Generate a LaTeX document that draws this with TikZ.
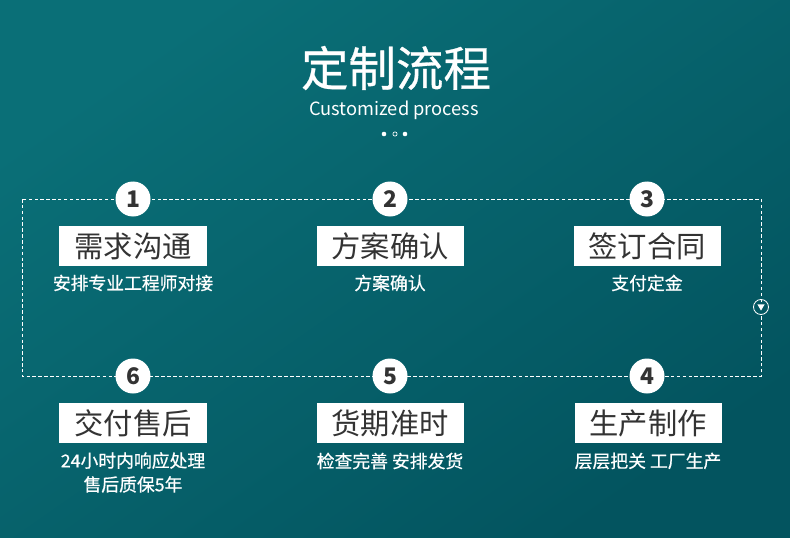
\documentclass[tikz,border=0pt]{standalone}
\usepackage{fontspec}
\setmainfont{Noto Sans CJK SC}
\newfontfamily\medfont[FakeBold=0.6]{Noto Sans CJK SC}
\usepackage{tikz}
\usetikzlibrary{calc}
\usepackage{xcolor}
\definecolor{bgtop}{HTML}{0A6F77}
\definecolor{bgbot}{HTML}{03545F}
\definecolor{ink}{HTML}{333333}
\tikzset{
  stepnum/.style={circle,fill=white,text=ink,minimum size=1.05cm,inner sep=0pt,
    font=\fontsize{19.5}{19.5}\selectfont\bfseries},
  titlebox/.style={rectangle,fill=white,text=ink,minimum width=4.41cm,
    minimum height=1.2cm,inner sep=0pt,font=\fontsize{25}{25}\selectfont},
  subtext/.style={text=white,inner sep=0pt,align=center,
    font=\fontsize{15.2}{20.4}\selectfont\medfont},
  flowline/.style={white,line width=0.7pt,dash pattern=on 3pt off 2pt},
}

\begin{document}
\begin{tikzpicture}[x=0.03cm,y=-0.03cm]
  \shade[shading=axis,top color=bgtop,bottom color=bgbot,shading angle=35]
    (0,0) rectangle (790,538);
  \useasboundingbox (0,0) rectangle (790,538);

  % heading
  \node[text=white,font=\fontsize{40.5}{40.5}\selectfont\medfont] (head) at (396,68) {定制流程};
  \node[text=white,font=\fontsize{15.6}{15.6}\selectfont] (headen) at (394,110) {Customized process};
  \fill[white] (384,134) circle (2.3);
  \draw[white,line width=0.6pt] (395,134) circle (2.1);
  \fill[white] (405,134) circle (2.3);

  % dashed frame
  \coordinate (tl) at (22,199);
  \coordinate (br) at (761,376);
  \draw[flowline] (tl) rectangle (br);
  \node[circle,draw=white,fill=bgbot!85!bgtop,line width=0.7pt,minimum size=0.45cm,
    inner sep=0pt] (turn) at (761,307) {};
  \draw[white,line width=0.7pt] (turn.north) -- ++(0,3);
  \fill[white] ($(turn.center)+(-3.6,-2.6)$) -- ++(7.2,0) -- ($(turn.center)+(0,3.6)$) -- cycle;

  % steps
  \node[stepnum] (n1) at (133,199) {1};
  \node[stepnum] (n2) at (390,199) {2};
  \node[stepnum] (n3) at (647,199) {3};
  \node[stepnum] (n4) at (647,376) {4};
  \node[stepnum] (n5) at (390,376) {5};
  \node[stepnum] (n6) at (133,376) {6};

  \node[titlebox] (b1) at (133,246) {需求沟通};
  \node[titlebox] (b2) at (390,246) {方案确认};
  \node[titlebox] (b3) at (647,246) {签订合同};
  \node[titlebox] (b4) at (648,423) {生产制作};
  \node[titlebox] (b5) at (390,423) {货期准时};
  \node[titlebox] (b6) at (133,423) {交付售后};

  \node[subtext] (s1) at (133,283) {安排专业工程师对接};
  \node[subtext] (s2) at (390,283) {方案确认};
  \node[subtext] (s3) at (647,283) {支付定金};
  \node[subtext] (s4) at (648,461) {层层把关 工厂生产};
  \node[subtext] (s5) at (390,461) {检查完善 安排发货};
  \node[subtext,anchor=north] (s6) at (133,452) {24小时内响应处理\\售后质保5年};
\end{tikzpicture}
\end{document}
